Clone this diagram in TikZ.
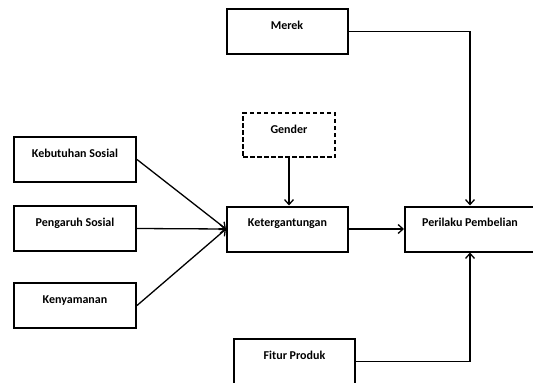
\documentclass[tikz,border=0pt]{standalone}
\usepackage{fontspec}
\setmainfont{Carlito}
\usetikzlibrary{arrows.meta}

\tikzset{
  kotak/.style={draw, line width=2pt, minimum width=121pt, inner sep=0pt,
    text height=20pt, text depth=25pt, font=\bfseries\fontsize{12}{14}\selectfont},
  garis/.style={line width=1.3pt, -{Straight Barb[length=5pt,width=9pt,line width=1.3pt]}},
}

\begin{document}
\begin{tikzpicture}[x=1pt,y=-1pt]
\useasboundingbox (0,0) rectangle (533,383);
%kotak
\node[kotak] (merek) at(287,31.5) {Merek};
\node[kotak, dash pattern=on 4.5pt off 2.5pt, minimum width=92pt, text depth=24pt] (gender) at(289,135) {Gender};
\node[kotak, minimum width=122pt] (kebutuhan) at(75,159.5) {Kebutuhan Sosial};
\node[kotak, minimum width=122pt] (pengaruh) at(75,228.5) {Pengaruh Sosial};
\node[kotak, minimum width=122pt] (kenyamanan) at(75,305.5) {Kenyamanan};
\node[kotak] (keter) at(287.5,229) {Ketergantungan};
\node[kotak, minimum width=130pt] (perilaku) at(470,229) {Perilaku Pembelian};
\node[kotak] (fitur) at(294.5,361.5) {Fitur Produk};
%panah
\draw[garis] (kebutuhan.east)--(keter.west);
\draw[garis] (pengaruh.east)--(keter.west);
\draw[garis] (kenyamanan.east)--(keter.west);
\draw[garis] (gender.south)--(gender.south |- keter.north);
\draw[garis] (keter.east)--(perilaku.west);
\draw[garis] (merek.east)-|(perilaku.north);
\draw[garis] (fitur.east)-|(perilaku.south);
\end{tikzpicture}
\end{document}
